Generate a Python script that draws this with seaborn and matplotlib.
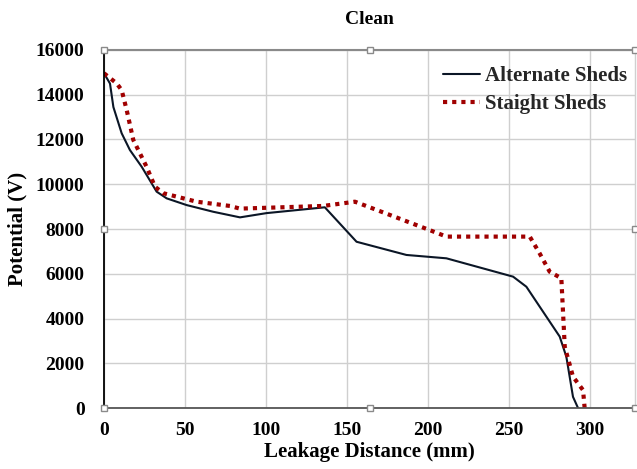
import matplotlib
matplotlib.use("Agg")
import matplotlib.pyplot as plt
import seaborn as sns
import pandas as pd

# Data
alt_x = [0, 3.7, 5.8, 10.9, 16, 23.3, 32.5, 38.7, 51, 67.5, 84, 100.4, 136.4, 156, 186.8,
         211.5, 252.7, 260.9, 281.5, 285.6, 289.7, 292.8]
alt_y = [14960, 14500, 13450, 12280, 11530, 10780, 9670, 9370, 9070, 8770, 8520, 8710, 8970,
         7430, 6840, 6690, 5870, 5420, 3190, 2290, 500, 0]

str_x = [0, 7.8, 10.9, 14, 18.1, 26.3, 31.5, 36.6, 57.2, 77.8, 84, 135.4, 155, 176.5, 201.2,
         211.5, 263, 269.1, 275.3, 282.5, 284.6, 289.7, 295.9, 296.9]
str_y = [14960, 14510, 14210, 13320, 11980, 10780, 9890, 9600, 9220, 9030, 8910, 9030, 9220,
         8630, 7950, 7660, 7660, 6910, 6090, 5800, 2740, 1400, 800, 0]

x_ticks = [0, 50, 100, 150, 200, 250, 300]
y_ticks = [0, 2000, 4000, 6000, 8000, 10000, 12000, 14000, 16000]

series_names = ["Alternate Sheds", "Staight Sheds"]

df = pd.concat([
    pd.DataFrame({"x": alt_x, "y": alt_y, "series": series_names[0], "order": range(len(alt_x))}),
    pd.DataFrame({"x": str_x, "y": str_y, "series": series_names[1], "order": range(len(str_x))}),
], ignore_index=True)

sns.set_theme(style="whitegrid")
plt.rcParams["font.family"] = ["Liberation Serif", "DejaVu Serif"]
plt.rcParams["font.weight"] = "bold"

fig = plt.figure(figsize=(6.37, 4.69), dpi=100)
ax = fig.add_axes([104 / 637, 61 / 469, 531 / 637, 358 / 469])

sns.lineplot(data=df[df.series == series_names[0]], x="x", y="y", sort=False, estimator=None,
             color="#0b1626", linewidth=1.5, ax=ax, label=series_names[0])
sns.lineplot(data=df[df.series == series_names[1]], x="x", y="y", sort=False, estimator=None,
             color="#a00000", linewidth=3, linestyle=(0, (1, 1.2)), ax=ax, label=series_names[1])

ax.set_xlim(0, 328)
ax.set_ylim(0, 16000)
ax.set_xticks(x_ticks)
ax.set_yticks(y_ticks)
ax.set_xticklabels([str(t) for t in x_ticks], fontsize=14, fontweight="bold")
ax.set_yticklabels([str(t) for t in y_ticks], fontsize=14, fontweight="bold")
ax.tick_params(axis="x", pad=10, length=0, colors="black")
ax.tick_params(axis="y", pad=14, length=0, colors="black")

ax.grid(True, color="#cfcfcf", linewidth=1)
ax.set_facecolor("white")
ax.spines["top"].set_color("#8a8a8a")
ax.spines["top"].set_linewidth(1.5)
ax.spines["right"].set_color("#d0d0d0")
ax.spines["right"].set_linewidth(1)
ax.spines["left"].set_color("black")
ax.spines["left"].set_linewidth(1.3)
ax.spines["bottom"].set_color("#555555")
ax.spines["bottom"].set_linewidth(1.3)

ax.set_xlabel("Leakage Distance (mm)", fontsize=15, fontweight="bold", labelpad=2, color="black")
ax.set_ylabel("Potential (V)", fontsize=15, fontweight="bold", labelpad=6, color="black")
ax.set_title("Clean", fontsize=14, fontweight="bold", pad=19, color="black")

leg = ax.legend(loc="upper right", bbox_to_anchor=(1.008, 0.99), frameon=False,
                fontsize=15, handlelength=1.8, handletextpad=0.2, labelspacing=0.4,
                borderaxespad=0.2)
for t in leg.get_texts():
    t.set_fontweight("bold")

# Excel-style selection handles on the plot area
hx = [0, 0.5, 1, 0, 1, 0, 0.5, 1]
hy = [1, 1, 1, 0.5, 0.5, 0, 0, 0]
ax.plot(hx, hy, linestyle="none", marker="s", markersize=5, markerfacecolor="white",
        markeredgecolor="#8a8a8a", markeredgewidth=1, transform=ax.transAxes, clip_on=False, zorder=5)

fig.savefig("out.png", dpi=100)
